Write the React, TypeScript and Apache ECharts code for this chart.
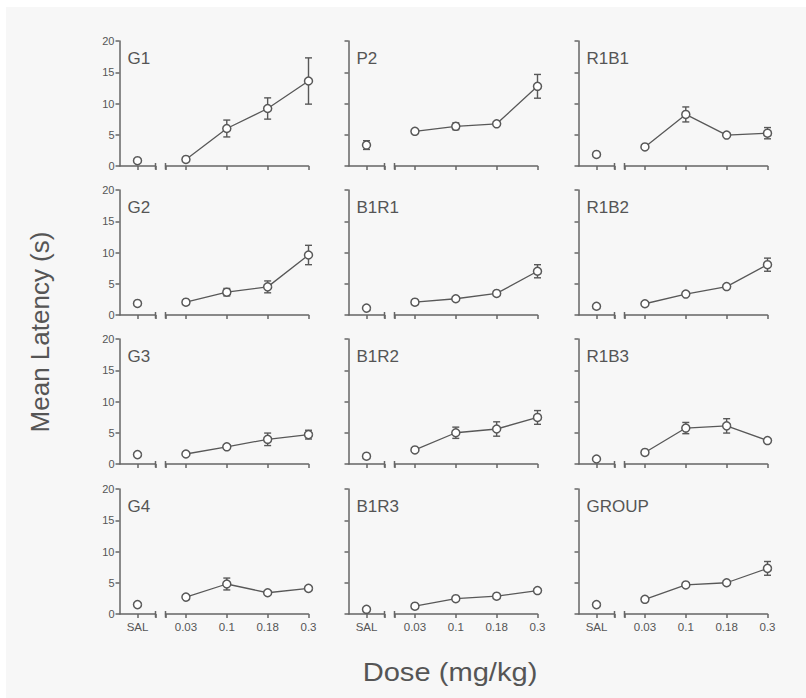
import React, { useEffect, useRef } from 'react';
import * as echarts from 'echarts';

// ---------- data ----------
const X_LABELS = ['SAL', '0.03', '0.1', '0.18', '0.3'];
const Y_MIN = 0;
const Y_MAX = 20;
const Y_STEP = 5;

// each array: [SAL, 0.03, 0.1, 0.18, 0.3]
const G1_MEAN = [0.85, 1.05, 6.0, 9.2, 13.6];
const G1_SEM = [0.2, 0.2, 1.35, 1.7, 3.7];
const P2_MEAN = [3.35, 5.55, 6.35, 6.75, 12.75];
const P2_SEM = [0.7, 0.2, 0.55, 0.2, 1.9];
const R1B1_MEAN = [1.85, 3.05, 8.25, 4.95, 5.25];
const R1B1_SEM = [0.2, 0.2, 1.2, 0.3, 0.9];
const G2_MEAN = [1.85, 2.05, 3.65, 4.5, 9.6];
const G2_SEM = [0.2, 0.2, 0.6, 0.95, 1.55];
const B1R1_MEAN = [1.1, 2.05, 2.6, 3.45, 7.0];
const B1R1_SEM = [0.2, 0.2, 0.2, 0.3, 1.05];
const R1B2_MEAN = [1.4, 1.8, 3.35, 4.55, 8.05];
const R1B2_SEM = [0.2, 0.2, 0.3, 0.3, 1.05];
const G3_MEAN = [1.5, 1.6, 2.75, 3.95, 4.7];
const G3_SEM = [0.2, 0.2, 0.3, 1.0, 0.7];
const B1R2_MEAN = [1.25, 2.25, 5.0, 5.6, 7.45];
const B1R2_SEM = [0.2, 0.2, 0.9, 1.15, 1.1];
const R1B3_MEAN = [0.8, 1.85, 5.75, 6.1, 3.75];
const R1B3_SEM = [0.2, 0.2, 0.9, 1.15, 0.3];
const G4_MEAN = [1.5, 2.7, 4.8, 3.4, 4.1];
const G4_SEM = [0.2, 0.2, 0.95, 0.3, 0.3];
const B1R3_MEAN = [0.75, 1.25, 2.45, 2.85, 3.75];
const B1R3_SEM = [0.2, 0.2, 0.2, 0.2, 0.2];
const GROUP_MEAN = [1.5, 2.35, 4.65, 5.0, 7.3];
const GROUP_SEM = [0.2, 0.2, 0.3, 0.3, 1.1];

const PANELS = [
  { name: 'G1', mean: G1_MEAN, sem: G1_SEM },
  { name: 'P2', mean: P2_MEAN, sem: P2_SEM },
  { name: 'R1B1', mean: R1B1_MEAN, sem: R1B1_SEM },
  { name: 'G2', mean: G2_MEAN, sem: G2_SEM },
  { name: 'B1R1', mean: B1R1_MEAN, sem: B1R1_SEM },
  { name: 'R1B2', mean: R1B2_MEAN, sem: R1B2_SEM },
  { name: 'G3', mean: G3_MEAN, sem: G3_SEM },
  { name: 'B1R2', mean: B1R2_MEAN, sem: B1R2_SEM },
  { name: 'R1B3', mean: R1B3_MEAN, sem: R1B3_SEM },
  { name: 'G4', mean: G4_MEAN, sem: G4_SEM },
  { name: 'B1R3', mean: B1R3_MEAN, sem: B1R3_SEM },
  { name: 'GROUP', mean: GROUP_MEAN, sem: GROUP_SEM },
];

// ---------- layout ----------
const COL_X = [119.5, 348.5, 578.5];
const ROW_TOP = [41, 190, 339, 489];
const PLOT_H = 125;
const LEFT_W = 36;
const RIGHT_OFF = 46;
const RIGHT_W = 143;
const FONT = "'Liberation Sans', Arial, Helvetica, sans-serif";
const TEXT = '#555555';
const AXIS = '#666666';
const MARK = '#585858';

function errorBarRender(params: any, api: any) {
  const x = api.value(0);
  const m = api.value(1);
  const s = api.value(2);
  const top = api.coord([x, m + s]);
  const bot = api.coord([x, m - s]);
  const hw = 3.5;
  const style = { stroke: MARK, lineWidth: 1.4 };
  return {
    type: 'group',
    children: [
      { type: 'line', shape: { x1: top[0], y1: top[1], x2: bot[0], y2: bot[1] }, style },
      { type: 'line', shape: { x1: top[0] - hw, y1: top[1], x2: top[0] + hw, y2: top[1] }, style },
      { type: 'line', shape: { x1: bot[0] - hw, y1: bot[1], x2: bot[0] + hw, y2: bot[1] }, style },
    ],
  };
}

function breakRender(params: any, api: any) {
  const p = api.coord([api.value(0), api.value(1)]);
  return {
    type: 'line',
    shape: { x1: p[0], y1: p[1] - 3, x2: p[0], y2: p[1] + 3.5 },
    style: { stroke: AXIS, lineWidth: 1.5 },
  };
}

function buildOption() {
  const grid: any[] = [];
  const xAxis: any[] = [];
  const yAxis: any[] = [];
  const series: any[] = [];
  const graphic: any[] = [];
  const lineStyle = { color: AXIS, width: 1.5 };

  PANELS.forEach((p, i) => {
    const row = Math.floor(i / 3);
    const col = i % 3;
    const L = 2 * i;
    const R = 2 * i + 1;
    grid.push({ left: COL_X[col], top: ROW_TOP[row], width: LEFT_W, height: PLOT_H });
    grid.push({ left: COL_X[col] + RIGHT_OFF, top: ROW_TOP[row], width: RIGHT_W, height: PLOT_H });

    xAxis.push({
      type: 'value', gridIndex: L, min: 0, max: 2,
      axisLine: { show: true, lineStyle },
      axisTick: { show: true, length: 4, customValues: [1, 2], lineStyle },
      axisLabel: {
        show: row === 3, customValues: [1], formatter: () => X_LABELS[0],
        fontSize: 11.5, color: TEXT, fontFamily: FONT, margin: 7,
      },
      splitLine: { show: false },
    });
    xAxis.push({
      type: 'value', gridIndex: R, min: -0.5, max: 3,
      axisLine: { show: true, lineStyle },
      axisTick: { show: true, length: 4, customValues: [-0.5, 0, 1, 2, 3], lineStyle },
      axisLabel: {
        show: row === 3, customValues: [0, 1, 2, 3],
        formatter: (v: number) => X_LABELS[Math.round(v) + 1],
        fontSize: 11.5, color: TEXT, fontFamily: FONT, margin: 7,
      },
      splitLine: { show: false },
    });
    yAxis.push({
      type: 'value', gridIndex: L, min: Y_MIN, max: Y_MAX, interval: Y_STEP,
      axisLine: { show: true, lineStyle },
      axisTick: { show: true, length: 4, lineStyle },
      axisLabel: { show: col === 0, fontSize: 11, color: TEXT, fontFamily: FONT, margin: 5 },
      splitLine: { show: false },
    });
    yAxis.push({
      type: 'value', gridIndex: R, min: Y_MIN, max: Y_MAX, interval: Y_STEP, show: false,
      splitLine: { show: false },
    });

    const markerStyle = { color: '#ffffff', borderColor: MARK, borderWidth: 1.5, opacity: 1 };

    // break marks
    series.push({
      type: 'custom', xAxisIndex: L, yAxisIndex: L, z: 1, silent: true,
      renderItem: breakRender, data: [[2, 0]],
    });
    series.push({
      type: 'custom', xAxisIndex: R, yAxisIndex: R, z: 1, silent: true,
      renderItem: breakRender, data: [[-0.5, 0]],
    });
    // error bars
    series.push({
      type: 'custom', xAxisIndex: L, yAxisIndex: L, z: 2, silent: true,
      renderItem: errorBarRender, data: [[1, p.mean[0], p.sem[0]]],
    });
    series.push({
      type: 'custom', xAxisIndex: R, yAxisIndex: R, z: 2, silent: true,
      renderItem: errorBarRender,
      data: p.mean.slice(1).map((m, k) => [k, m, p.sem[k + 1]]),
    });
    // SAL point
    series.push({
      type: 'scatter', xAxisIndex: L, yAxisIndex: L, z: 4, silent: true,
      symbol: 'circle', symbolSize: 8, itemStyle: markerStyle,
      data: [[1, p.mean[0]]],
    });
    // dose line
    series.push({
      type: 'line', xAxisIndex: R, yAxisIndex: R, z: 3, silent: true,
      symbol: 'circle', symbolSize: 8, showSymbol: true, itemStyle: markerStyle,
      lineStyle: { color: MARK, width: 1.3 },
      data: p.mean.slice(1).map((m, k) => [k, m]),
    });

    graphic.push({
      type: 'text', x: COL_X[col] + 8, y: ROW_TOP[row] + 8.5,
      style: { text: p.name, fontSize: 17, fontFamily: FONT, fill: TEXT, textAlign: 'left', textVerticalAlign: 'top' },
    });
  });

  graphic.push({
    type: 'text', x: 40, y: 332, rotation: Math.PI / 2,
    style: { text: 'Mean Latency (s)', fontSize: 26, fontFamily: FONT, fill: TEXT, textAlign: 'center', textVerticalAlign: 'middle' },
  });
  graphic.push({
    type: 'text', x: 450, y: 672, scaleX: 1.12,
    style: { text: 'Dose (mg/kg)', fontSize: 26, fontFamily: FONT, fill: TEXT, textAlign: 'center', textVerticalAlign: 'middle' },
  });

  return {
    animation: false,
    backgroundColor: 'transparent',
    textStyle: { fontFamily: FONT },
    grid, xAxis, yAxis, series, graphic,
  };
}

export default function App() {
  const ref = useRef<HTMLDivElement>(null);
  useEffect(() => {
    if (!ref.current) return;
    const chart = echarts.init(ref.current, undefined, { renderer: 'svg' });
    chart.setOption(buildOption() as any);
    return () => chart.dispose();
  }, []);
  return (
    <div style={{ position: 'fixed', left: 0, top: 0, width: 806, height: 698, background: '#ffffff' }}>
      <div style={{ position: 'absolute', left: 6, top: 7, right: 0, bottom: 0, background: '#f7f7f7' }} />
      <div ref={ref} style={{ position: 'absolute', left: 0, top: 0, width: 806, height: 698 }} />
    </div>
  );
}
